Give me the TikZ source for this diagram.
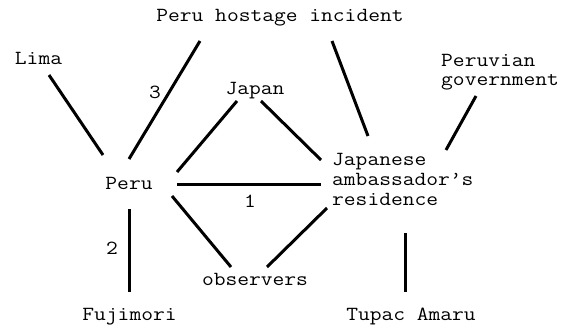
\documentclass[tikz,border=0pt]{standalone}
\usepackage{fontspec}
\newfontfamily\monof[FakeStretch=1.143]{Latin Modern Mono}
\begin{document}
\begin{tikzpicture}[x=1pt,y=-1pt,
  lbl/.style={font=\monof\fontsize{20}{20}\selectfont, inner sep=0pt, anchor=base},
  mlbl/.style={inner sep=0pt, anchor=base west, text width=150pt, align=left},
  edge/.style={line width=3pt}]
\useasboundingbox (0,0) rectangle (565,329);
\fill[white] (0,0) rectangle (565,329);
% nodes
\node[lbl] (hostage) at (280,22) {Peru hostage incident};
\node[lbl] (lima) at (38.5,65) {Lima};
\node[mlbl, font=\monof\fontsize{20}{19}\selectfont] (gov) at (441,66.5) {Peruvian\\government};
\node[lbl] (japan) at (255,94) {Japan};
\node[lbl] (peru) at (129,189) {Peru};
\node[mlbl, font=\monof\fontsize{20}{20}\selectfont] (res) at (332,165) {Japanese\\ambassador’s\\residence};
\node[lbl] (obs) at (255,285) {observers};
\node[lbl] (fuji) at (129.5,320) {Fujimori};
\node[lbl] (tupac) at (411,320) {Tupac Amaru};
% edge labels
\node[lbl] (l3) at (155,99) {3};
\node[lbl] (l2) at (112,254) {2};
\node[lbl] (l1) at (250,207) {1};
% edges
\draw[edge] ([shift={(10.5,10)}]lima.base) -- ([shift={(-26,-34)}]peru.base);
\draw[edge] ([shift={(-80,19)}]hostage.base) -- ([shift={(0,-30)}]peru.base);
\draw[edge] ([shift={(-18,7)}]japan.base) -- ([shift={(48,-17)}]peru.base);
\draw[edge] ([shift={(6,7)}]japan.base) -- ([shift={(-11,-5)}]res.base west);
\draw[edge] ([shift={(52,19)}]hostage.base) -- ([shift={(36,-29)}]res.base west);
\draw[edge] ([shift={(35,29.5)}]gov.base west) -- ([shift={(114,-15)}]res.base west);
\draw[edge] ([shift={(48,-5)}]peru.base) -- ([shift={(-11,19)}]res.base west);
\draw[edge] ([shift={(43,7)}]peru.base) -- ([shift={(-24,-18)}]obs.base);
\draw[edge] ([shift={(-5,43)}]res.base west) -- ([shift={(12,-18)}]obs.base);
\draw[edge] ([shift={(0,20)}]peru.base) -- ([shift={(-0.5,-28)}]fuji.base);
\draw[edge] ([shift={(73,68)}]res.base west) -- ([shift={(-6,-28)}]tupac.base);
\end{tikzpicture}
\end{document}
